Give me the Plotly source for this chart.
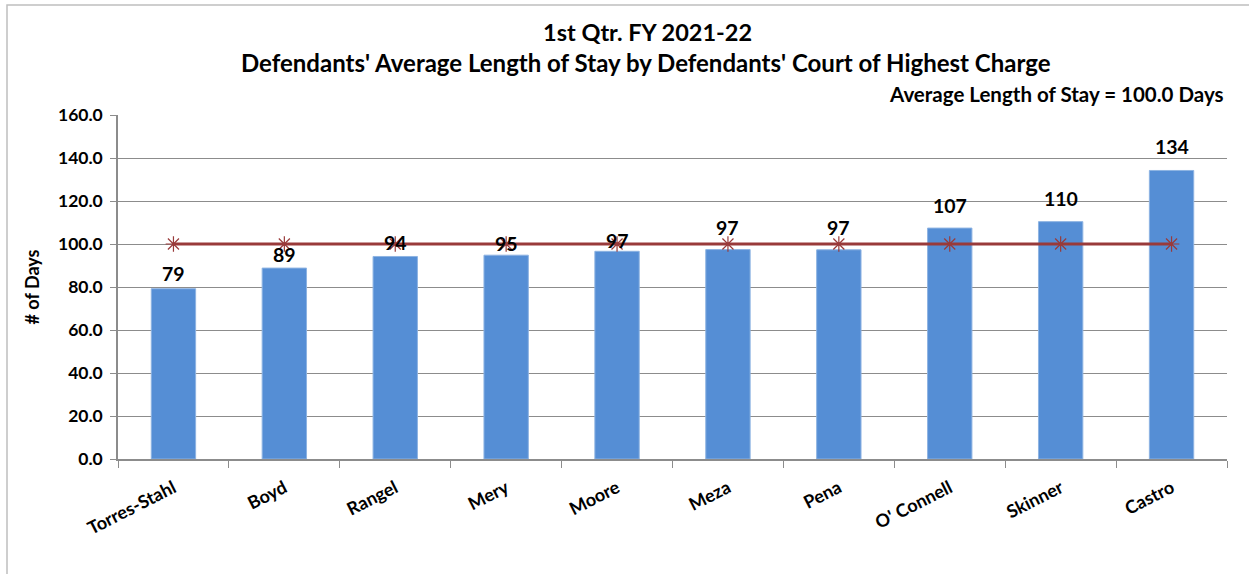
import plotly.graph_objects as go

categories = ["Torres-Stahl", "Boyd", "Rangel", "Mery", "Moore", "Meza", "Pena", "O' Connell", "Skinner", "Castro"]
stay_days = [79.2, 88.8, 94.2, 94.8, 96.6, 97.4, 97.3, 107.4, 110.4, 134.2]
average_days = [100.0] * len(categories)
y_ticks = [0, 20, 40, 60, 80, 100, 120, 140, 160]

# styling: pixel lift of each value label above its bar (as placed in the original)
label_lift_px = [2, 0, 0, -2, -3, 9, 9, 9, 10, 10]

FONT = "Lato"
W, H = 1249, 574
L, R, T, B = 118, 1227, 115, 459

fig = go.Figure()
fig.add_trace(go.Bar(
    x=categories, y=stay_days, width=0.4,
    marker=dict(color="#558ED5", line=dict(color="#8DB3E2", width=1)),
    showlegend=False,
))
fig.add_trace(go.Scatter(
    x=categories, y=average_days, mode="lines+markers",
    line=dict(color="#993A3A", width=3),
    marker=dict(symbol="asterisk-open", size=13, line=dict(color="#B25C5C", width=1.2)),
    showlegend=False,
))

for c, v, lift in zip(categories, stay_days, label_lift_px):
    fig.add_annotation(x=c, y=v, xref="x", yref="y", text=f"<b>{v:.0f}</b>",
                       showarrow=False, yanchor="bottom", yshift=lift,
                       font=dict(family=FONT, size=19.5, color="black"))

def px_x(p):
    return (p - L) / (R - L)

def px_y(p):
    return (B - p) / (B - T)

fig.add_shape(type="rect", xref="paper", yref="paper",
              x0=px_x(7), x1=px_x(1300), y0=px_y(5), y1=px_y(650),
              line=dict(color="#BFBFBF", width=1.5), fillcolor="rgba(0,0,0,0)", layer="below")

fig.add_annotation(text="<b>1st Qtr. FY 2021-22</b>", xref="paper", yref="paper",
                   x=px_x(647), y=px_y(32), showarrow=False,
                   font=dict(family=FONT, size=23.5, color="black"), xanchor="center", yanchor="middle")
fig.add_annotation(text="<b>Defendants' Average Length of Stay by Defendants' Court of Highest Charge</b>",
                   xref="paper", yref="paper", x=px_x(646), y=px_y(63), showarrow=False,
                   font=dict(family=FONT, size=24, color="black"), xanchor="center", yanchor="middle")
fig.add_annotation(text="<b>Average Length of Stay = 100.0 Days</b>", xref="paper", yref="paper",
                   x=px_x(1226), y=px_y(94), showarrow=False,
                   font=dict(family=FONT, size=20.5, color="black"), xanchor="right", yanchor="middle")

fig.update_layout(
    width=W, height=H,
    margin=dict(l=L, r=W - R, t=T, b=H - B),
    paper_bgcolor="white", plot_bgcolor="white",
    font=dict(family=FONT, color="black"),
    xaxis=dict(
        type="category", range=[-0.5, len(categories) - 0.5], autorange=False,
        showline=True, linecolor="#8C8C8C", linewidth=1.5,
        ticks="outside", tickson="boundaries", ticklen=7, tickcolor="#8C8C8C",
        tickangle=-27, tickfont=dict(family=FONT, size=18, color="black"),
        tickprefix="<b>", ticksuffix="</b>", ticklabelstandoff=10,
        showgrid=False,
    ),
    yaxis=dict(
        range=[0, 160], tickvals=y_ticks, ticktext=[f"<b>{v:.1f}</b>" for v in y_ticks],
        showline=True, linecolor="#8C8C8C", linewidth=1.5,
        ticks="outside", ticklen=6, tickcolor="#8C8C8C",
        showgrid=True, gridcolor="#8C8C8C", gridwidth=1,
        tickfont=dict(family=FONT, size=17.5, color="black"),
        ticklabelstandoff=4,
        title=dict(text="<b># of Days</b>", font=dict(family=FONT, size=18, color="black"), standoff=14),
        zeroline=False,
    ),
)

fig.write_html("out.html", config={"displayModeBar": False},
               post_script="document.body.style.margin='0';")
